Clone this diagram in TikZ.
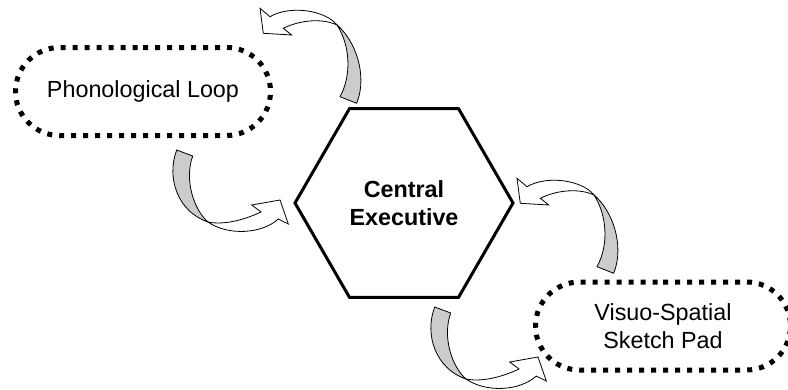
\documentclass[tikz,border=0pt]{standalone}
\usepackage{fontspec}
\setmainfont{Liberation Sans}
\usetikzlibrary{shapes.geometric,shapes.misc}
\definecolor{bandGray}{RGB}{204,204,204}
\newcommand{\overArrow}{%%
  %% Back side of the twisted ribbon.
  \draw[bandStyle] (337,25) .. controls (355,40) and (368,75) .. (356.7,103.3)
    -- (340,96.7) .. controls (352,75) and (350,45) .. (337,25) -- cycle;
  %% Front side, ending in the head.
  \draw[headStyle] (337,25) .. controls (325,10) and (290,5) .. (270,16.7)
    -- (260,8.3) -- (263.3,33.3) -- (291.7,35) -- (283.3,28.3)
    .. controls (300,20) and (322,18) .. (337,25) -- cycle;
}
\newcommand{\underArrow}{%%
  %% Back side of the twisted ribbon.
  \draw[bandStyle] (176.7,150) .. controls (166,178) and (178,212) .. (208,222)
    .. controls (194,210) and (184,180) .. (192.7,156) -- cycle;
  %% Front side, ending in the head.
  \draw[headStyle] (208,222) .. controls (228,236) and (262,234) .. (278.3,219)
    -- (288.3,224) -- (280,200) -- (251.7,205) -- (261,212)
    .. controls (242,221) and (222,225) .. (208,222) -- cycle;
}

\begin{document}
\begin{tikzpicture}[%%
  x=0.75pt,y=-0.75pt,
  boxStyle/.style={draw,rounded rectangle,line width=3.75pt,
    dash pattern=on 3.75pt off 5.25pt,minimum width=191.25pt,
    minimum height=66pt,inner sep=0pt,align=center,
    font=\fontsize{17.5}{21}\selectfont},
  hexStyle/.style={draw,regular polygon,regular polygon sides=6,
    line width=2.25pt,minimum size=163.5pt,inner sep=0pt,align=center,
    font=\bfseries\fontsize{17.5}{21}\selectfont},
  bandStyle/.style={draw,line width=0.6pt,fill=bandGray},
  headStyle/.style={draw,line width=0.6pt,fill=white}
]
\useasboundingbox (0,0) rectangle (788,389);
%%
%% The three stores.
\node[boxStyle] (phono) at (143,91.5) {Phonological Loop};
\node[hexStyle] (central) at (404,203) {Central\\Executive};
\node[boxStyle] (visuo) at (663,326) {Visuo-Spatial\\Sketch Pad};
%%
%% Curved arrows between them.
\overArrow
\underArrow
\begin{scope}[shift={(257,170)}]
  \overArrow
\end{scope}
\begin{scope}[shift={(258,157)}]
  \underArrow
\end{scope}
\end{tikzpicture}
\end{document}
